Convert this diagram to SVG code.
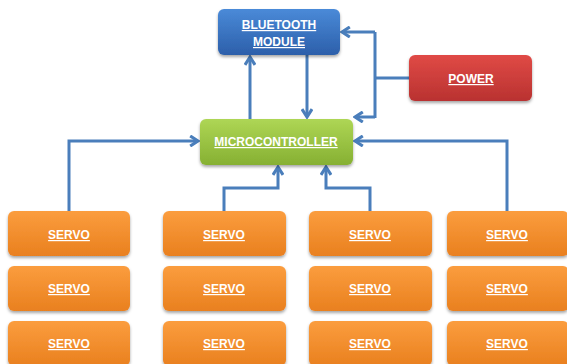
<svg xmlns="http://www.w3.org/2000/svg" width="567" height="364" viewBox="0 0 567 364">
<style>
.t{font-family:"Liberation Sans",Arial,sans-serif;font-weight:bold;font-size:12px;fill:#fff;text-anchor:middle;text-decoration:underline}
.c{fill:none;stroke:#4a7ebb;stroke-width:3;stroke-linejoin:miter}
</style>
<defs>
<linearGradient id="gb" x1="0" y1="0" x2="0" y2="1"><stop offset="0" stop-color="#4a8ad8"/><stop offset="1" stop-color="#2c5faa"/></linearGradient>
<linearGradient id="gr" x1="0" y1="0" x2="0" y2="1"><stop offset="0" stop-color="#e04a46"/><stop offset="1" stop-color="#b93230"/></linearGradient>
<linearGradient id="gg" x1="0" y1="0" x2="0" y2="1"><stop offset="0" stop-color="#aed655"/><stop offset="1" stop-color="#86b032"/></linearGradient>
<linearGradient id="go" x1="0" y1="0" x2="0" y2="1"><stop offset="0" stop-color="#fb9d3e"/><stop offset="1" stop-color="#e9801f"/></linearGradient>
<filter id="sh" x="-10%" y="-10%" width="120%" height="140%"><feDropShadow dx="0" dy="2" stdDeviation="1.5" flood-color="#000" flood-opacity="0.35"/></filter>
<marker id="ar" viewBox="0 0 10 10" refX="8.5" refY="5" markerWidth="4" markerHeight="4" orient="auto" markerUnits="strokeWidth">
<polyline points="2,0.8 8.5,5 2,9.2" fill="none" stroke="#4a7ebb" stroke-width="2.6"/>
</marker>
</defs>
<g id="connectors">
<path class="c" d="M250,119 V57" marker-end="url(#ar)"/>
<path class="c" d="M307,55 V117" marker-end="url(#ar)"/>
<path class="c" d="M409,78 H375 M375,32 V118 M375,32 H342" marker-end="url(#ar)"/>
<path class="c" d="M375,117 H355" marker-end="url(#ar)"/>
<path class="c" d="M69,211 V141 H198" marker-end="url(#ar)"/>
<path class="c" d="M224,211 V188 H278 V167" marker-end="url(#ar)"/>
<path class="c" d="M370,211 V188 H326 V167" marker-end="url(#ar)"/>
<path class="c" d="M507,211 V141 H355" marker-end="url(#ar)"/>
</g>
<g id="bluetooth">
<rect x="218" y="9" width="122" height="46" rx="6" fill="url(#gb)" filter="url(#sh)"/>
<text class="t" x="279" y="29">BLUETOOTH</text>
<text class="t" x="279" y="46">MODULE</text>
</g>
<g id="power">
<rect x="409" y="55" width="123" height="46" rx="6" fill="url(#gr)" filter="url(#sh)"/>
<text class="t" x="471" y="83">POWER</text>
</g>
<g id="microcontroller">
<rect x="200" y="119" width="153" height="46" rx="6" fill="url(#gg)" filter="url(#sh)"/>
<text class="t" x="276" y="146">MICROCONTROLLER</text>
</g>
<g id="servo-1-1"><rect x="8" y="211" width="122" height="45" rx="6" fill="url(#go)" filter="url(#sh)"/><text class="t" x="69" y="239">SERVO</text></g>
<g id="servo-1-2"><rect x="163" y="211" width="123" height="45" rx="6" fill="url(#go)" filter="url(#sh)"/><text class="t" x="224" y="239">SERVO</text></g>
<g id="servo-1-3"><rect x="309" y="211" width="123" height="45" rx="6" fill="url(#go)" filter="url(#sh)"/><text class="t" x="370" y="239">SERVO</text></g>
<g id="servo-1-4"><rect x="447" y="211" width="122" height="45" rx="6" fill="url(#go)" filter="url(#sh)"/><text class="t" x="507" y="239">SERVO</text></g>
<g id="servo-2-1"><rect x="8" y="266" width="122" height="45" rx="6" fill="url(#go)" filter="url(#sh)"/><text class="t" x="69" y="293">SERVO</text></g>
<g id="servo-2-2"><rect x="163" y="266" width="123" height="45" rx="6" fill="url(#go)" filter="url(#sh)"/><text class="t" x="224" y="293">SERVO</text></g>
<g id="servo-2-3"><rect x="309" y="266" width="123" height="45" rx="6" fill="url(#go)" filter="url(#sh)"/><text class="t" x="370" y="293">SERVO</text></g>
<g id="servo-2-4"><rect x="447" y="266" width="122" height="45" rx="6" fill="url(#go)" filter="url(#sh)"/><text class="t" x="507" y="293">SERVO</text></g>
<g id="servo-3-1"><rect x="8" y="321" width="122" height="45" rx="6" fill="url(#go)" filter="url(#sh)"/><text class="t" x="69" y="348">SERVO</text></g>
<g id="servo-3-2"><rect x="163" y="321" width="123" height="45" rx="6" fill="url(#go)" filter="url(#sh)"/><text class="t" x="224" y="348">SERVO</text></g>
<g id="servo-3-3"><rect x="309" y="321" width="123" height="45" rx="6" fill="url(#go)" filter="url(#sh)"/><text class="t" x="370" y="348">SERVO</text></g>
<g id="servo-3-4"><rect x="447" y="321" width="122" height="45" rx="6" fill="url(#go)" filter="url(#sh)"/><text class="t" x="507" y="348">SERVO</text></g>
</svg>
